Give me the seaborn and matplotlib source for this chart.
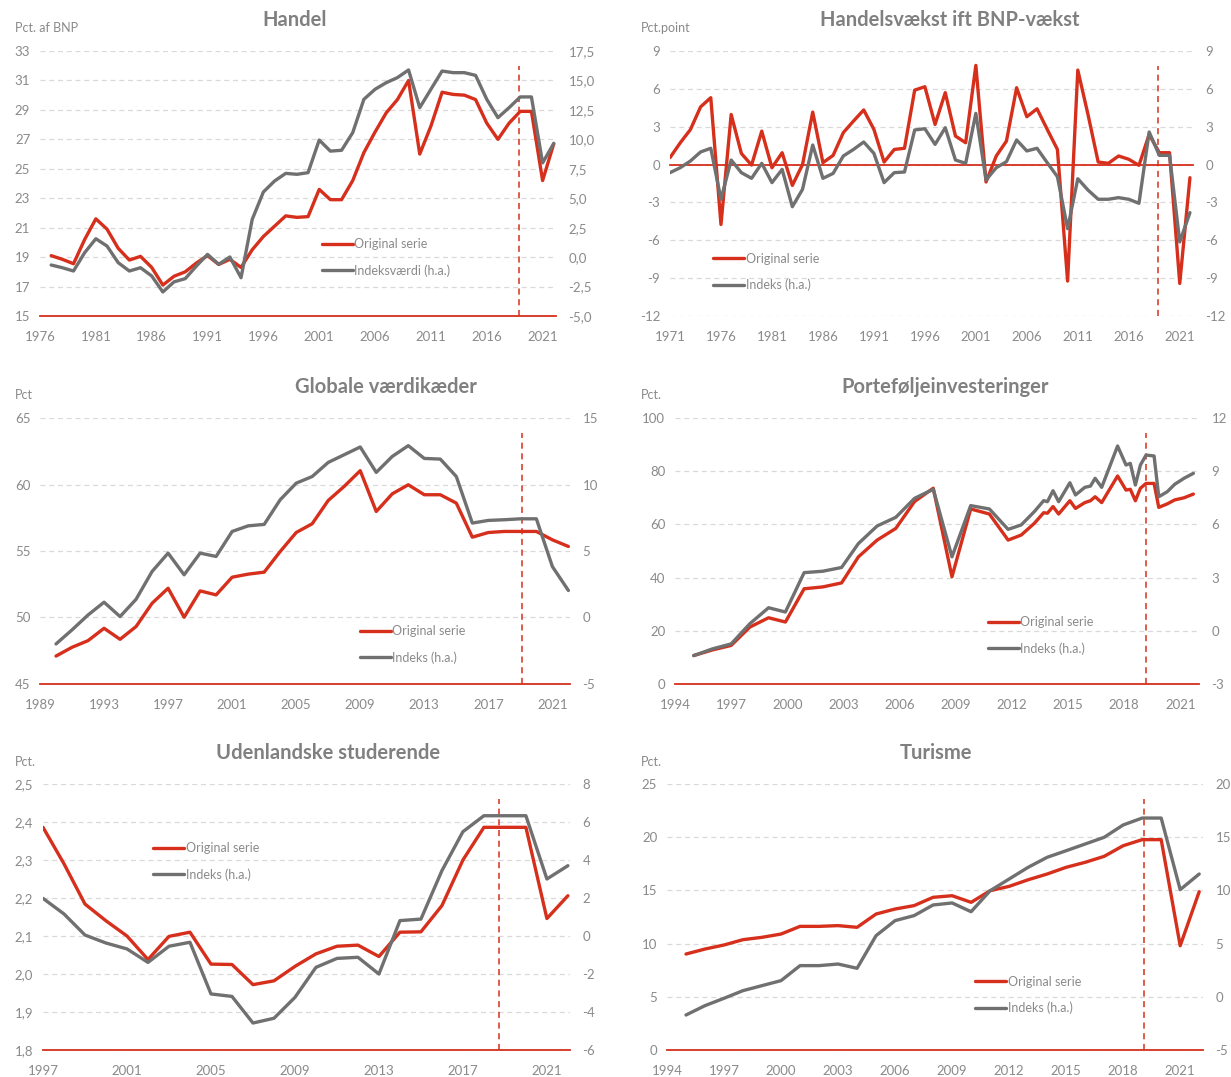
import numpy as np
import pandas as pd
import matplotlib
matplotlib.use("Agg")
import matplotlib.pyplot as plt
from matplotlib.ticker import FuncFormatter
import seaborn as sns

# ---- data ----
handel_years = list(range(1977, 2023))
handel_orig = [19.1, 18.85, 18.55, 20.2, 21.6, 20.9, 19.6, 18.8, 19.05, 18.3,
               17.1, 17.7, 18.0, 18.6, 19.1, 18.5, 18.85, 18.3, 19.5, 20.4,
               21.1, 21.8, 21.7, 21.75, 23.6, 22.9, 22.9, 24.2, 26.1, 27.5,
               28.8, 29.7, 31.0, 26.0, 27.9, 30.2, 30.05, 30.0, 29.7, 28.1,
               27.0, 28.1, 28.9, 28.9, 24.2, 26.7]
handel_idx = [-0.67, -0.9, -1.18, 0.38, 1.56, 0.94, -0.47, -1.18, -0.9, -1.6,
              -2.96, -2.1, -1.83, -0.76, 0.23, -0.61, 0.01, -1.75, 3.2, 5.53,
              6.46, 7.11, 7.03, 7.17, 9.94, 9.0, 9.07, 10.57, 13.4, 14.25,
              14.81, 15.24, 15.89, 12.69, 14.25, 15.8, 15.66, 15.66, 15.43, 13.4,
              11.84, 12.69, 13.6, 13.6, 8.0, 9.66]

vaekst_years = list(range(1971, 2023))
vaekst_orig = [0.55, 1.72, 2.77, 4.57, 5.3, -4.75, 3.97, 0.88, -0.04, 2.65,
               -0.25, 0.94, -1.65, 0.0, 4.16, 0.15, 0.73, 2.53, 3.45, 4.33,
               2.79, 0.2, 1.2, 1.29, 5.9, 6.17, 3.18, 5.7, 2.26, 1.73,
               7.86, -1.38, 0.68, 1.86, 6.09, 3.79, 4.42, 2.79, 1.2, -9.23,
               7.49, 3.97, 0.2, 0.1, 0.68, 0.42, -0.06, 2.39, 0.94, 0.94,
               -9.42, -1.04]
vaekst_idx = [-0.64, -0.25, 0.28, 1.0, 1.29, -2.75, 0.36, -0.64, -1.09, 0.1,
              -1.43, -0.38, -3.34, -1.96, 1.55, -1.09, -0.7, 0.68, 1.2, 1.79,
              0.89, -1.43, -0.64, -0.59, 2.74, 2.84, 1.6, 2.92, 0.36, 0.1,
              4.06, -1.22, -0.25, 0.23, 1.95, 1.08, 1.29, 0.15, -0.96, -5.08,
              -1.12, -2.02, -2.75, -2.75, -2.62, -2.75, -3.07, 2.58, 0.73, 0.73,
              -6.13, -3.81]

gvk_years = list(range(1990, 2023))
gvk_orig = [47.1, 47.76, 48.26, 49.19, 48.36, 49.32, 51.07, 52.2, 50.02, 52.0,
            51.7, 53.03, 53.26, 53.41, 54.96, 56.39, 57.05, 58.8, 59.86, 61.04,
            57.97, 59.3, 59.98, 59.23, 59.23, 58.6, 56.04, 56.39, 56.47, 56.47,
            56.47, 55.84, 55.34]
gvk_idx = [-1.99, -0.93, 0.19, 1.15, 0.07, 1.37, 3.46, 4.84, 3.21, 4.84,
           4.59, 6.47, 6.89, 7.0, 8.85, 10.1, 10.6, 11.66, 12.24, 12.82,
           10.91, 12.11, 12.92, 11.96, 11.91, 10.6, 7.1, 7.3, 7.35, 7.42,
           7.42, 3.83, 2.03]

port_years = [1995.0, 1996.0, 1997.0, 1998.0, 1999.0, 1999.9, 2000.9, 2001.9,
              2002.9, 2003.8, 2004.8, 2005.8, 2006.8, 2007.8, 2008.8, 2009.8,
              2010.8, 2011.8, 2012.5, 2013.2, 2013.7, 2013.9, 2014.2, 2014.5,
              2015.1, 2015.4, 2015.9, 2016.2, 2016.45, 2016.8, 2017.65, 2018.1,
              2018.33, 2018.6, 2018.87, 2019.17, 2019.6, 2019.85, 2020.3, 2020.7,
              2021.2, 2021.7]
port_orig = [10.7, 12.8, 14.5, 21.4, 24.9, 23.3, 35.8, 36.5, 38.0, 47.8,
             54.1, 58.5, 68.6, 73.6, 40.3, 65.8, 63.9, 54.1, 56.0, 60.4,
             64.4, 64.2, 66.7, 63.9, 68.9, 66.0, 68.2, 68.9, 70.4, 68.2,
             78.2, 72.9, 73.2, 68.9, 73.6, 75.4, 75.4, 66.4, 67.7, 69.2,
             70.0, 71.4]
port_idx = [-1.4, -1.02, -0.74, 0.4, 1.3, 1.06, 3.28, 3.36, 3.57, 4.92,
            5.91, 6.4, 7.47, 7.98, 4.17, 7.06, 6.87, 5.72, 5.97, 6.72,
            7.34, 7.28, 7.9, 7.28, 8.35, 7.66, 8.09, 8.16, 8.6, 8.09,
            10.42, 9.35, 9.44, 8.22, 9.35, 9.91, 9.86, 7.56, 7.84, 8.26,
            8.6, 8.88]

stud_years = list(range(1997, 2023))
stud_orig = [2.386, 2.29, 2.184, 2.14, 2.10, 2.038, 2.099, 2.11, 2.026, 2.025,
             1.972, 1.982, 2.02, 2.053, 2.073, 2.076, 2.046, 2.11, 2.111, 2.18,
             2.30, 2.386, 2.386, 2.386, 2.146, 2.206]
stud_idx = [1.98, 1.16, 0.05, -0.37, -0.68, -1.39, -0.54, -0.33, -3.05, -3.18,
            -4.58, -4.33, -3.23, -1.65, -1.18, -1.12, -2.0, 0.81, 0.89, 3.44,
            5.49, 6.33, 6.33, 6.33, 3.0, 3.7]

tur_years = list(range(1995, 2023))
tur_orig = [9.02, 9.49, 9.87, 10.37, 10.59, 10.9, 11.62, 11.62, 11.69, 11.53,
            12.78, 13.25, 13.57, 14.35, 14.5, 13.88, 14.97, 15.38, 16.0, 16.54,
            17.17, 17.64, 18.2, 19.2, 19.77, 19.77, 9.8, 14.88]
tur_idx = [-1.71, -0.83, -0.14, 0.58, 1.05, 1.52, 2.93, 2.93, 3.08, 2.68,
           5.75, 7.16, 7.63, 8.63, 8.82, 8.0, 9.97, 11.07, 12.17, 13.11,
           13.73, 14.36, 14.99, 16.15, 16.8, 16.8, 10.07, 11.54]

# ---- style ----
RED = "#d62f1c"
GREY = "#707070"
TXT = "#8a8a8a"
TITLE = "#808080"
W, H = 1231, 1077

sns.set_style("white")
plt.rcParams["font.family"] = ["Lato", "DejaVu Sans"]

fig = plt.figure(figsize=(W / 100, H / 100), dpi=100)


def comma(decimals):
    return FuncFormatter(lambda v, p: f"{v:.{decimals}f}".replace(".", ","))


def panel(p):
    x0, x1, ytop, ybot = p["box"]
    ax = fig.add_axes([x0 / W, 1 - ybot / H, (x1 - x0) / W, (ybot - ytop) / H])
    ax2 = ax.twinx()

    df = pd.DataFrame({"year": p["years"], "orig": p["orig"], "idx": p["idx"]})
    sns.lineplot(data=df, x="year", y="orig", ax=ax, color=RED, lw=2.4)
    red_line = ax.lines[-1]
    sns.lineplot(data=df, x="year", y="idx", ax=ax2, color=GREY, lw=2.4)
    grey_line = ax2.lines[-1]

    ax.set_xlim(*p["xlim"])
    ax.set_ylim(p["left"][0], p["left"][-1])
    ax2.set_ylim(p["right"][0], p["right"][-1])
    ax.set_yticks(p["left"])
    ax2.set_yticks(p["right"])
    ax.yaxis.set_major_formatter(comma(p["ldec"]))
    ax2.yaxis.set_major_formatter(comma(p["rdec"]))
    ax.set_xlabel("")
    ax.set_ylabel("")
    ax2.set_ylabel("")

    ax.yaxis.grid(True, ls=(0, (4, 3)), color="#d9d9d9", lw=0.9)
    ax.xaxis.grid(False)
    ax2.grid(False)
    ax.set_axisbelow(True)

    for s in ["top", "left", "right"]:
        ax.spines[s].set_visible(False)
    for s in ax2.spines.values():
        s.set_visible(False)
    ax.spines["bottom"].set_color(RED)
    ax.spines["bottom"].set_linewidth(1.3)

    ax.tick_params(axis="y", length=0, labelsize=9.5, labelcolor=TXT, pad=7)
    ax2.tick_params(axis="y", length=0, labelsize=9.5, labelcolor=TXT, pad=9)

    xt = p["xticks"]
    ax.set_xticks(xt)
    if p.get("zero_axis"):
        # red axis line sits on zero, year labels stay at the bottom
        ax.spines["bottom"].set_position(("data", 0))
        ax.tick_params(axis="x", direction="in", length=4, width=1, color=RED,
                       labelbottom=False)
        sec = ax.secondary_xaxis("bottom")
        sec.set_xticks(xt)
        sec.set_xticklabels([str(t) for t in xt])
        sec.tick_params(length=0, labelsize=9.5, labelcolor=TXT, pad=11)
        sec.spines["bottom"].set_visible(False)
    else:
        ax.set_xticklabels([str(t) for t in xt])
        ax.tick_params(axis="x", direction="in", length=4, width=1, color=RED,
                       labelsize=9.5, labelcolor=TXT, pad=11)

    ax.axvline(p["vline"], ymin=0, ymax=0.945, color=RED, lw=1.1,
               ls=(0, (4, 3)))

    lx, ly = p["legend"]
    ax2.legend([red_line, grey_line], ["Original serie", p["idx_label"]],
               loc="center left", bbox_to_anchor=(lx / W, 1 - ly / H),
               bbox_transform=fig.transFigure, frameon=False, fontsize=9,
               handlelength=2.5, handletextpad=0.1, labelspacing=1.1,
               borderaxespad=0, borderpad=0, labelcolor=TXT)

    tx, ty = p["title_xy"]
    fig.text(tx / W, 1 - ty / H, p["title"], ha="center", va="center",
             fontsize=14.5, fontweight="bold", color=TITLE)
    ux, uy = p["unit_xy"]
    fig.text(ux / W, 1 - uy / H, p["unit"], ha="left", va="center",
             fontsize=9, color=TXT)


panels = [
    dict(years=handel_years, orig=handel_orig, idx=handel_idx,
         box=(40, 556, 51, 316), xlim=(1976, 2022.2),
         xticks=list(range(1976, 2022, 5)),
         left=np.arange(15, 34, 2), right=np.arange(-5, 17.6, 2.5),
         ldec=0, rdec=1, vline=2018.9, legend=(322, 257.5),
         idx_label="Indeksværdi (h.a.)", title="Handel", title_xy=(295, 20),
         unit="Pct. af BNP", unit_xy=(15, 28)),
    dict(years=vaekst_years, orig=vaekst_orig, idx=vaekst_idx,
         box=(670, 1193, 51, 316), xlim=(1971, 2022.3),
         xticks=list(range(1971, 2022, 5)),
         left=np.arange(-12, 10, 3), right=np.arange(-12, 10, 3),
         ldec=0, rdec=0, vline=2018.9, legend=(713, 272), zero_axis=True,
         idx_label="Indeks (h.a.)", title="Handelsvækst ift BNP-vækst",
         title_xy=(950, 20), unit="Pct.point", unit_xy=(641, 28)),
    dict(years=gvk_years, orig=gvk_orig, idx=gvk_idx,
         box=(40, 570, 418, 684), xlim=(1989, 2022.1),
         xticks=list(range(1989, 2022, 4)),
         left=np.arange(45, 66, 5), right=np.arange(-5, 16, 5),
         ldec=0, rdec=0, vline=2019.1, legend=(360, 644.5),
         idx_label="Indeks (h.a.)", title="Globale værdikæder",
         title_xy=(386, 387), unit="Pct", unit_xy=(15, 395)),
    dict(years=port_years, orig=port_orig, idx=port_idx,
         box=(675, 1199, 418, 684), xlim=(1994, 2022.0),
         xticks=list(range(1994, 2022, 3)),
         left=np.arange(0, 101, 20), right=np.arange(-3, 13, 3),
         ldec=0, rdec=0, vline=2019.15, legend=(988, 635.5),
         idx_label="Indeks (h.a.)", title="Porteføljeinvesteringer",
         title_xy=(945, 387), unit="Pct.", unit_xy=(641, 395)),
    dict(years=stud_years, orig=stud_orig, idx=stud_idx,
         box=(43, 570, 784, 1050), xlim=(1997, 2022.1),
         xticks=list(range(1997, 2022, 4)),
         left=np.arange(1.8, 2.51, 0.1), right=np.arange(-6, 9, 2),
         ldec=1, rdec=0, vline=2018.7, legend=(153, 861.5),
         idx_label="Indeks (h.a.)", title="Udenlandske studerende",
         title_xy=(328, 753), unit="Pct.", unit_xy=(15, 762)),
    dict(years=tur_years, orig=tur_orig, idx=tur_idx,
         box=(667, 1203, 784, 1050), xlim=(1994, 2022.2),
         xticks=list(range(1994, 2022, 3)),
         left=np.arange(0, 26, 5), right=np.arange(-5, 21, 5),
         ldec=0, rdec=0, vline=2019.1, legend=(975, 995),
         idx_label="Indeks (h.a.)", title="Turisme",
         title_xy=(936, 753), unit="Pct.", unit_xy=(641, 762)),
]

for p in panels:
    panel(p)

fig.savefig("out.png", dpi=100, facecolor="white")
plt.close(fig)
